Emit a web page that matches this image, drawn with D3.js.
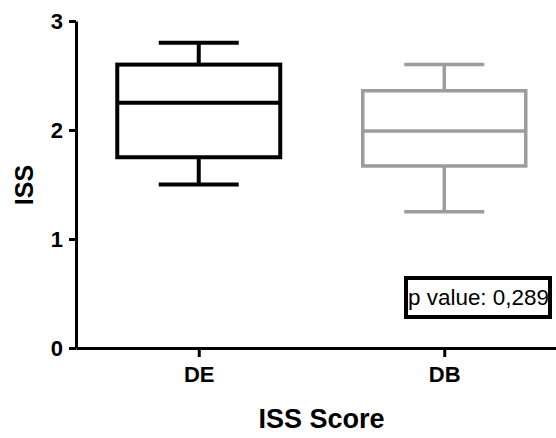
<!DOCTYPE html>
<html>
<head>
<meta charset="utf-8">
<script src="https://cdn.jsdelivr.net/npm/d3@7"></script>
<style>
  body { margin: 0; background: #fff; }
  .axis path, .axis line { stroke: #000; stroke-width: 3; }
  .axis text { font-family: "Liberation Sans", Arial, sans-serif; font-weight: bold; font-size: 22px; fill: #000; }
</style>
</head>
<body>
<script>
// data
var groups = ["DE", "DB"];
var mins = [1.5, 1.25];
var q1s = [1.75, 1.67];
var medians = [2.25, 1.99];
var q3s = [2.6, 2.36];
var maxs = [2.8, 2.6];
var colors = ["#000000", "#9c9c9c"];
var yTicks = [0, 1, 2, 3];
var pLabel = "p value: 0,289";

var width = 556, height = 438;

var svg = d3.select("body").append("svg")
    .attr("width", width)
    .attr("height", height);

// scales
var x = d3.scalePoint().domain(groups).range([76, 567]).padding(0.5);
var y = d3.scaleLinear().domain([0, 3]).range([348, 21]);

var boxHalf = 81.5, capHalf = 40;

var data = groups.map(function(g, i) {
  return {name: g, min: mins[i], q1: q1s[i], med: medians[i], q3: q3s[i], max: maxs[i], color: colors[i]};
});

var box = svg.selectAll(".box")
  .data(data)
  .enter().append("g")
    .attr("class", "box")
    .style("stroke", function(d) { return d.color; })
    .style("stroke-width", function(d, i) { return i === 0 ? 4 : 3.5; })
    .style("fill", "none");

// whiskers
box.append("line")
  .attr("x1", function(d) { return x(d.name); })
  .attr("x2", function(d) { return x(d.name); })
  .attr("y1", function(d) { return y(d.max); })
  .attr("y2", function(d) { return y(d.q3); });
box.append("line")
  .attr("x1", function(d) { return x(d.name); })
  .attr("x2", function(d) { return x(d.name); })
  .attr("y1", function(d) { return y(d.q1); })
  .attr("y2", function(d) { return y(d.min); });
// caps
box.append("line")
  .attr("x1", function(d) { return x(d.name) - capHalf; })
  .attr("x2", function(d) { return x(d.name) + capHalf; })
  .attr("y1", function(d) { return y(d.max); })
  .attr("y2", function(d) { return y(d.max); });
box.append("line")
  .attr("x1", function(d) { return x(d.name) - capHalf; })
  .attr("x2", function(d) { return x(d.name) + capHalf; })
  .attr("y1", function(d) { return y(d.min); })
  .attr("y2", function(d) { return y(d.min); });
// box
box.append("rect")
  .attr("x", function(d) { return x(d.name) - boxHalf; })
  .attr("width", boxHalf * 2)
  .attr("y", function(d) { return y(d.q3); })
  .attr("height", function(d) { return y(d.q1) - y(d.q3); })
  .style("fill", "#fff");
// median
box.append("line")
  .attr("x1", function(d) { return x(d.name) - boxHalf; })
  .attr("x2", function(d) { return x(d.name) + boxHalf; })
  .attr("y1", function(d) { return y(d.med); })
  .attr("y2", function(d) { return y(d.med); });

// axes
svg.append("g")
  .attr("class", "axis")
  .attr("transform", "translate(0,348)")
  .call(d3.axisBottom(x).tickSize(9).tickSizeOuter(0).tickPadding(9));

svg.append("g")
  .attr("class", "axis")
  .attr("transform", "translate(76,0)")
  .call(d3.axisLeft(y).tickValues(yTicks).tickFormat(d3.format("d")).tickSize(7).tickSizeOuter(0).tickPadding(6));

// axis titles
svg.append("text")
  .attr("x", 321.5)
  .attr("y", 428)
  .attr("text-anchor", "middle")
  .style("font-family", "'Liberation Sans', Arial, sans-serif")
  .style("font-weight", "bold")
  .style("font-size", "27px")
  .text("ISS Score");

svg.append("text")
  .attr("transform", "translate(33,185) rotate(-90)")
  .attr("text-anchor", "middle")
  .style("font-family", "'Liberation Sans', Arial, sans-serif")
  .style("font-weight", "bold")
  .style("font-size", "25px")
  .text("ISS");

// p value box
svg.append("rect")
  .attr("x", 406)
  .attr("y", 278)
  .attr("width", 144)
  .attr("height", 39)
  .style("fill", "#fff")
  .style("stroke", "#000")
  .style("stroke-width", 4);

svg.append("text")
  .attr("x", 408)
  .attr("y", 305)
  .attr("textLength", 141)
  .attr("lengthAdjust", "spacingAndGlyphs")
  .style("font-family", "'Liberation Sans', Arial, sans-serif")
  .style("font-size", "22px")
  .text(pLabel);
</script>
</body>
</html>
